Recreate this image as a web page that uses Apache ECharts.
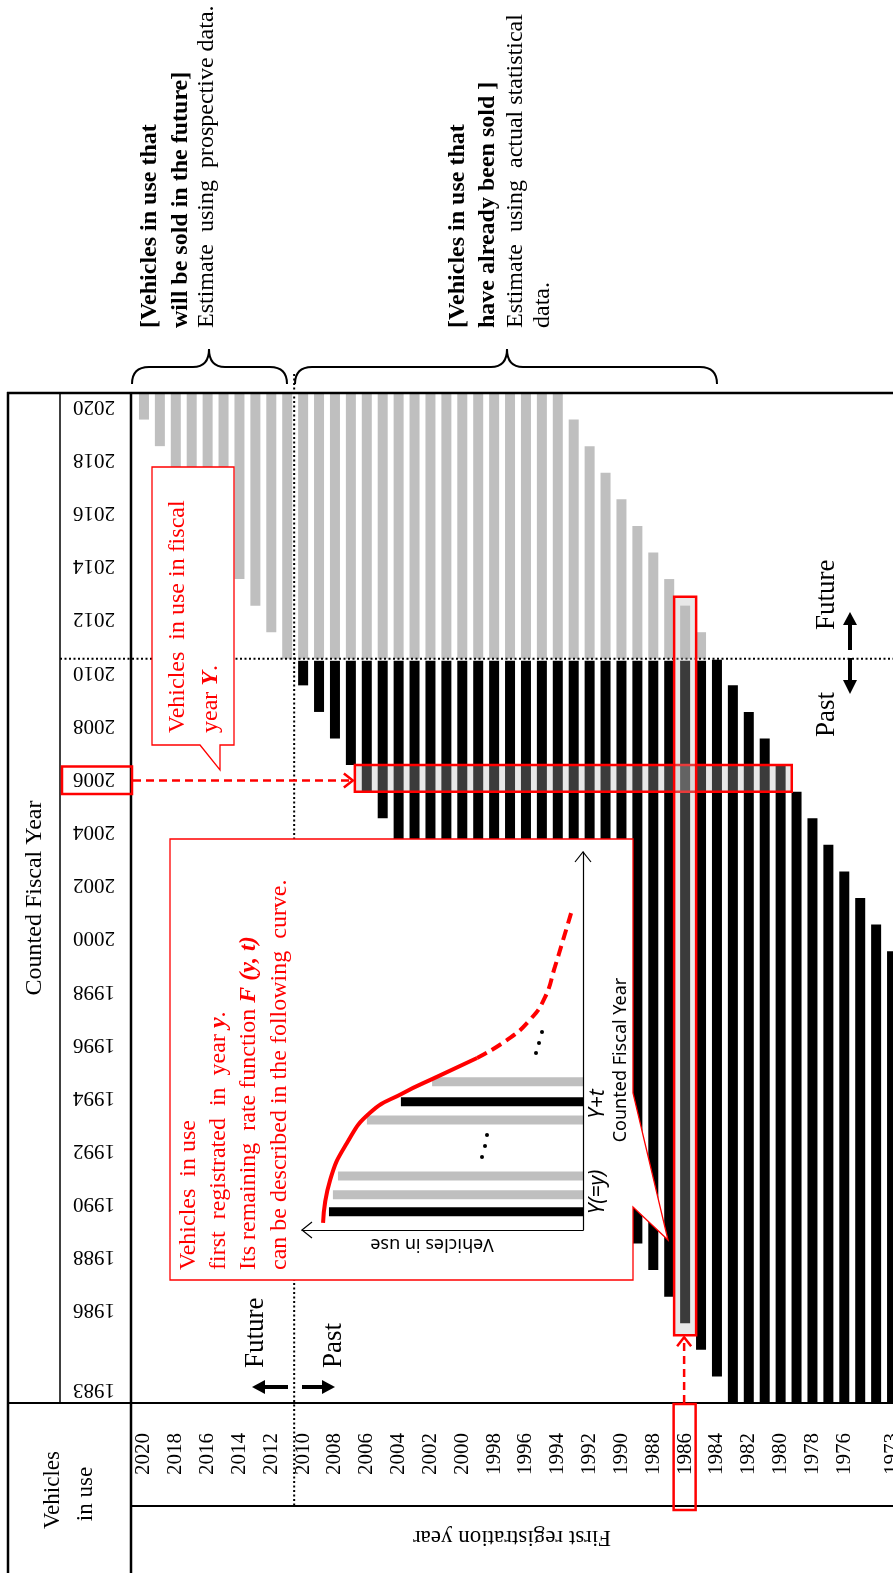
<!DOCTYPE html>
<html><head><meta charset="utf-8">
<script src="https://cdn.jsdelivr.net/npm/echarts@6/dist/echarts.min.js"></script>
<style>html,body{margin:0;padding:0;background:#fff}#c{width:893px;height:1573px}</style>
</head><body><div id="c"></div>
<script>
// ---------------- data ----------------
const regYears = [2020,2019,2018,2017,2016,2015,2014,2013,2012,2011,2010,2009,2008,2007,2006,2005,2004,2003,2002,2001,2000,1999,1998,1997,1996,1995,1994,1993,1992,1991,1990,1989,1988,1987,1986,1985,1984,1983,1982,1981,1980,1979,1978,1977,1976,1975,1974,1973];
// latest counted fiscal year shown for each registration-year column
const barLatestFiscal = [2020,2020,2020,2020,2020,2020,2020,2020,2020,2020,2020,2020,2020,2020,2020,2020,2020,2020,2020,2020,2020,2020,2020,2020,2020,2020,2020,2019,2018,2017,2016,2015,2014,2013,2012,2011,2010,2009,2008,2007,2006,2005,2004,2003,2002,2001,2000,1999];
// earliest counted fiscal year shown for each registration-year column
const barEarliestFiscal = [2020,2019,2018,2017,2016,2015,2014,2013,2012,2011,2010,2009,2008,2007,2006,2005,2004,2003,2002,2001,2000,1999,1998,1997,1996,1995,1994,1993,1992,1991,1990,1989,1988,1987,1986,1985,1984,1983,1983,1983,1983,1983,1983,1983,1983,1983,1983,1983];
const fiscalYears = [2020,2019,2018,2017,2016,2015,2014,2013,2012,2011,2010,2009,2008,2007,2006,2005,2004,2003,2002,2001,2000,1999,1998,1997,1996,1995,1994,1993,1992,1991,1990,1989,1988,1987,1986,1985,1984,1983];
const fiscalTickLabels = [2020,2018,2016,2014,2012,2010,2008,2006,2004,2002,2000,1998,1996,1994,1992,1990,1988,1986,1983];
const regTickLabels = [2020,2018,2016,2014,2012,2010,2008,2006,2004,2002,2000,1998,1996,1994,1992,1990,1988,1986,1984,1982,1980,1978,1976,1973];
const presentFiscalYear = 2010;
const highlightFiscalYear = 2006;
const highlightRowFromReg = 2006;
const highlightRowToReg = 1980;
const highlightRegYear = 1986;
// inset (conceptual remaining-rate sketch)
const insetBarT = [4.8, 9.3, 14.3, 29.1, 33.9, 39.2];
const insetBarV = [90.4, 89.0, 87.2, 76.9, 64.8, 53.7];
const insetBarKind = ['past','future','future','future','past','future'];
const curveSolidV = [92.5, 90.0, 84.0, 75.8, 64.1, 52.0, 37.7];
const curveSolidT = [1.9, 13.2, 23.0, 31.0, 36.2, 40.5, 45.5];
const curveDashV = [37.7, 27.0, 18.9, 13.5, 10.0, 7.1, 3.9];
const curveDashT = [45.5, 50.3, 55.6, 61.6, 69.6, 76.7, 84.7];

// ---------------- chart ----------------
const SERIF = '"Liberation Serif","Times New Roman",serif';
const SANS = '"Noto Sans","Open Sans",sans-serif';
const GRAY = '#bfbfbf';
const RED = '#ff0000';
const chart = echarts.init(document.getElementById('c'), null, {renderer:'canvas', width:893, height:1573});

const pIdx = fiscalYears.indexOf(presentFiscalYear);
const mainData = regYears.map((r,i)=>[i, fiscalYears.indexOf(barLatestFiscal[i]), fiscalYears.indexOf(barEarliestFiscal[i])]);

function renderMain(params, api){
  const i = api.value(0), ti = api.value(1), bi = api.value(2);
  const band = api.size([1,1]);
  const bh = band[1];
  const bw = 10;
  const cx = api.coord([i, ti])[0];
  const yTop = api.coord([i, ti])[1] - bh/2;
  const yBot = api.coord([i, bi])[1] + bh/2;
  const ySplit = api.coord([i, pIdx])[1] - bh/2;
  const ch = [];
  if (ti < pIdx) {
    const yb = Math.min(ySplit, yBot);
    ch.push({type:'rect', shape:{x:cx-bw/2, y:yTop, width:bw, height:yb-yTop}, style:{fill:GRAY}});
  }
  if (bi >= pIdx) {
    const yt = ti < pIdx ? ySplit + 2 : Math.max(yTop, ySplit + 1);
    ch.push({type:'rect', shape:{x:cx-bw/2, y:yt, width:bw, height:yBot-yt}, style:{fill:'#000'}});
  }
  return {type:'group', children:ch};
}
function renderInset(params, api){
  const v = api.value(0), t = api.value(1), past = api.value(2);
  const p0 = api.coord([0,t]), p1 = api.coord([v,t]);
  return {type:'rect', shape:{x:Math.min(p0[0],p1[0]), y:p0[1]-4.5, width:Math.abs(p0[0]-p1[0]), height:9}, style:{fill: past ? '#000' : GRAY}};
}

const option = {
  backgroundColor:'#fff',
  animation:false,
  grid:[
    {left:136, top:393, width:764, height:1010, containLabel:false, outerBoundsMode:'none'},
    {left:302, top:852, width:281, height:378, containLabel:false, outerBoundsMode:'none'}
  ],
  xAxis:[
    {type:'category', gridIndex:0, data:regYears.map(String), boundaryGap:true, position:'bottom',
     axisLine:{show:false}, axisTick:{show:false}, splitLine:{show:false},
     axisLabel:{interval:(i,v)=>regTickLabels.includes(+v), rotate:90, margin:30, fontSize:21, fontFamily:SERIF, color:'#000'}},
    {type:'value', gridIndex:1, inverse:true, min:0, max:100, z:10,
     axisLine:{show:true, onZero:false, lineStyle:{color:'#000', width:1.2}}, axisTick:{show:false}, axisLabel:{show:false}, splitLine:{show:false}}
  ],
  yAxis:[
    {type:'category', gridIndex:0, data:fiscalYears.map(String), inverse:true, boundaryGap:true, position:'left',
     axisLine:{show:false}, axisTick:{show:false}, splitLine:{show:false},
     axisLabel:{interval:(i,v)=>fiscalTickLabels.includes(+v), rotate:180, margin:21, fontSize:21, fontFamily:SERIF, color:'#000'}},
    {type:'value', gridIndex:1, min:0, max:100, position:'right', z:10,
     axisLine:{show:true, onZero:false, lineStyle:{color:'#000', width:1.2}}, axisTick:{show:false}, axisLabel:{show:false}, splitLine:{show:false}}
  ],
  series:[
    {type:'custom', name:'vehicles', xAxisIndex:0, yAxisIndex:0, z:1, renderItem:renderMain, data:mainData, encode:{x:0, y:[1,2]}},
    {type:'custom', name:'inset bars', xAxisIndex:1, yAxisIndex:1, z:10, renderItem:renderInset,
     data:insetBarV.map((v,k)=>[v, insetBarT[k], insetBarKind[k]==='past'?1:0]), encode:{x:0, y:1}},
    {type:'line', name:'curve', xAxisIndex:1, yAxisIndex:1, z:11, smooth:true, symbol:'none',
     data:curveSolidV.map((v,k)=>[v, curveSolidT[k]]), lineStyle:{color:RED, width:4}},
    {type:'line', name:'curve future', xAxisIndex:1, yAxisIndex:1, z:11, smooth:true, symbol:'none',
     data:curveDashV.map((v,k)=>[v, curveDashT[k]]), lineStyle:{color:RED, width:4, type:[11,6]}}
  ]
};
chart.setOption(option);

// ---------------- annotations ----------------
const G = [];
function ln(x1,y1,x2,y2,w,color,dash,z){ G.push({type:'line', silent:true, z:z||3, shape:{x1,y1,x2,y2}, style:{stroke:color||'#000', lineWidth:w, lineDash:dash||null}}); }
function poly(points, fill, z, stroke, lw){ G.push({type:'polygon', silent:true, z:z||4, shape:{points}, style:{fill, stroke:stroke||null, lineWidth:lw||0}}); }
function pl(points, stroke, w, z){ G.push({type:'polyline', silent:true, z:z||4, shape:{points}, style:{stroke, lineWidth:w, fill:null}}); }
function rect(x,y,w,h,fill,stroke,lw,z){ G.push({type:'rect', silent:true, z:z||4, shape:{x,y,width:w,height:h}, style:{fill:fill||'none', stroke:stroke||null, lineWidth:lw||0}}); }
function qb(x1,y1,cx,cy,x2,y2,w,z){ G.push({type:'bezierCurve', silent:true, z:z||4, shape:{x1,y1,x2,y2,cpx1:cx,cpy1:cy}, style:{stroke:'#000', lineWidth:w, fill:null}}); }
function brace(xl, xt, xr, yEnd, yLine, yTip){
  const r = 17;
  qb(xl, yEnd, xl, yLine, xl+r, yLine, 2);
  ln(xl+r, yLine, xt-16, yLine, 2, '#000', null, 4);
  qb(xt-16, yLine, xt, yLine, xt, yTip, 2);
  qb(xt, yTip, xt, yLine, xt+16, yLine, 2);
  ln(xt+16, yLine, xr-r, yLine, 2, '#000', null, 4);
  qb(xr-r, yLine, xr, yLine, xr, yEnd, 2);
}
function txt(x,y,str,o){
  o = o||{};
  G.push({type:'text', silent:true, z:o.z||7, x, y, rotation:o.rot||0, style:{
    text:str, fill:o.fill||'#000', fontSize:o.size||24, fontFamily:o.family||SERIF,
    fontWeight:o.weight||'normal', fontStyle:o.style||'normal',
    align:o.align||'left', verticalAlign:o.valign||'middle',
    textAlign:o.align||'left', textVerticalAlign:o.valign||'middle', rich:o.rich||undefined}});
}
const UP = Math.PI/2, FLIP = Math.PI;
const px = (xi, yi) => chart.convertToPixel({xAxisIndex:0, yAxisIndex:0}, [xi, yi]);
const p00 = px(0,0), p11 = px(1,1);
const bandW = p11[0]-p00[0], bandH = p11[1]-p00[1];

// frame
ln(8,392,8,1573,2.5); ln(7,393,893,393,2.5);
ln(60,393,60,1403,1.5); ln(131,393,131,1573,2.5);
ln(8,1403,893,1403,2); ln(131,1506,893,1506,2);
// future / past dotted dividers
const xDiv = (px(regYears.indexOf(presentFiscalYear+1),0)[0] + px(regYears.indexOf(presentFiscalYear),0)[0])/2 - 1;
const yDiv = px(0, pIdx)[1] - bandH/2;
ln(xDiv,374,xDiv,1508,2,'#000',[2,2.5],3);
ln(60,yDiv,893,yDiv,2,'#000',[2,2.5],3);

// highlight row (fiscal year Y)
const rowI = fiscalYears.indexOf(highlightFiscalYear);
const rx0 = px(regYears.indexOf(highlightRowFromReg), rowI)[0] - 0.75*bandW;
const rx1 = px(regYears.indexOf(highlightRowToReg), rowI)[0] + 0.7*bandW;
const ryC = px(0, rowI)[1];
rect(rx0, ryC-bandH/2, rx1-rx0, bandH, 'rgba(182,182,182,0.32)', RED, 2.5, 4);
// highlight column (registration year y)
const colI = regYears.indexOf(highlightRegYear);
const cxC = px(colI, 0)[0];
const cTop = px(colI, fiscalYears.indexOf(barLatestFiscal[colI]))[1] - bandH/2 - 9;
const cBot = px(colI, fiscalYears.indexOf(barEarliestFiscal[colI]))[1] + bandH/2 + 12;
rect(cxC-11, cTop, 22, cBot-cTop, 'rgba(182,182,182,0.32)', RED, 2.5, 4);
// label boxes
rect(62, ryC-12, 70, bandH+1, 'none', RED, 2.5, 5);
rect(cxC-11.5, 1404, 22, 106, 'none', RED, 2.5, 5);
// dashed arrows
ln(133, ryC+2, rx0-2, ryC+2, 2.5, RED, [8,5], 5);
pl([[rx0-11, ryC-5],[rx0-2, ryC+2],[rx0-11, ryC+9]], RED, 2.5, 5);
ln(cxC-1, 1403, cxC-1, cBot+2, 2.5, RED, [8,5], 5);
pl([[cxC-8, cBot+11],[cxC-1, cBot+2],[cxC+6, cBot+11]], RED, 2.5, 5);

// axis titles
txt(35, 898, 'Counted Fiscal Year', {rot:UP, align:'center', size:24});
txt(512, 1537, 'First registration year', {rot:FLIP, align:'center', size:23});
txt(53, 1490, 'Vehicles', {rot:UP, align:'center', size:23});
txt(86, 1494, 'in use', {rot:UP, align:'center', size:23});

// top explanations + braces
txt(150, 328, '[Vehicles in use that', {rot:UP, weight:'bold', size:24});
txt(181, 328, 'will be sold in the future]', {rot:UP, weight:'bold', size:24});
txt(207, 328, 'Estimate  using  prospective data.', {rot:UP, size:24});
txt(458, 328, '[Vehicles in use that', {rot:UP, weight:'bold', size:24});
txt(488, 328, 'have already been sold ]', {rot:UP, weight:'bold', size:24});
txt(516, 328, 'Estimate  using  actual statistical', {rot:UP, size:24});
txt(543, 328, 'data.', {rot:UP, size:24});
brace(132, 209, 287, 384, 367, 349);
brace(295, 507, 717, 384, 367, 349);

// future / past markers
txt(827, 630, 'Future', {rot:UP, size:27});
txt(827, 737, 'Past', {rot:UP, size:27});
ln(850,650,850,622,4,'#000',null,4); poly([[843,625],[857,625],[850,612]], '#000');
ln(850,658,850,683,4,'#000',null,4); poly([[843,680],[857,680],[850,694]], '#000');
txt(256, 1368, 'Future', {rot:UP, size:27});
txt(334, 1368, 'Past', {rot:UP, size:27});
ln(288,1387,262,1387,4,'#000',null,4); poly([[265,1380],[265,1394],[252,1387]], '#000');
ln(302,1387,325,1387,4,'#000',null,4); poly([[322,1380],[322,1394],[335,1387]], '#000');

// callout 1
poly([[152,467],[234,467],[234,745],[220,745],[220,770],[200,745],[152,745]], '#fff', 6, RED, 1.3);
txt(178, 733, 'Vehicles  in use in fiscal', {rot:UP, size:24, fill:RED});
txt(211, 733, 'year {bi|Y}.', {rot:UP, size:24, fill:RED,
  rich:{bi:{fontWeight:'bold', fontStyle:'italic', fontSize:24, fontFamily:SERIF, fill:RED}}});

// callout 2
poly([[170,839],[633,839],[633,1093],[668,1240],[633,1207],[633,1280],[170,1280]], '#fff', 6, RED, 1.3);
const richBI = {bi:{fontWeight:'bold', fontStyle:'italic', fontSize:24, fontFamily:SERIF, fill:RED}};
txt(189, 1270, 'Vehicles  in use', {rot:UP, size:24, fill:RED});
txt(219, 1270, 'first  registrated  in  year {bi|y}.', {rot:UP, size:24, fill:RED, rich:richBI});
txt(249, 1270, 'Its remaining  rate function {bi|F (y, t)}', {rot:UP, size:24, fill:RED, rich:richBI});
txt(280, 1270, 'can be described in the following  curve.', {rot:UP, size:24, fill:RED});

// inset decorations
pl([[312,1222],[302,1230],[312,1238]], '#000', 1.2, 12);
pl([[575,862],[583,852],[591,862]], '#000', 1.2, 12);
txt(432, 1244, 'Vehicles in use', {rot:FLIP, align:'center', size:18, family:SANS, z:12});
txt(621, 1060, 'Counted Fiscal Year', {rot:UP, align:'center', size:18, family:SANS, z:12});
txt(598, 1192, 'Y(=y)', {rot:UP, align:'center', size:21, family:SANS, style:'italic', z:12});
txt(598, 1104, 'Y+t', {rot:UP, align:'center', size:21, family:SANS, style:'italic', z:12});
[[482,1157],[485,1146],[487,1135],[536,1053],[539,1043],[542,1032]].forEach(p=>{
  G.push({type:'circle', silent:true, z:12, shape:{cx:p[0], cy:p[1], r:2}, style:{fill:'#000'}});
});

chart.setOption({graphic:{elements:G}});
</script></body></html>
